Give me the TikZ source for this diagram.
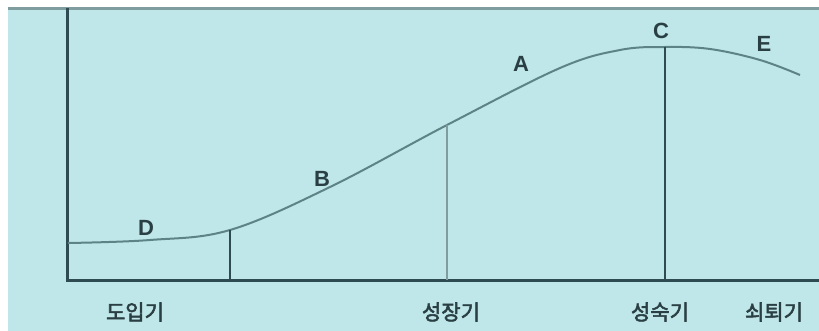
\documentclass[tikz,border=0pt]{standalone}
\usepackage{fontspec}
\setmainfont{Liberation Sans}
\newfontfamily\krfont[FakeBold=2.5]{Noto Sans CJK KR}
\definecolor{bgblue}{HTML}{BFE6E8}
\definecolor{axisdark}{HTML}{2E4B51}
\definecolor{curvegray}{HTML}{5E8386}
\definecolor{linegray}{HTML}{7F9C9E}
\definecolor{textdark}{HTML}{2A3F44}
\begin{document}
\begin{tikzpicture}[
  x=1pt, y=-1pt,
  axis/.style={axisdark, line width=3pt},
  curve/.style={curvegray, line width=2pt},
  divider/.style={axisdark, line width=2pt},
  letter/.style={font=\bfseries\fontsize{22}{22}\selectfont, text=textdark, inner sep=0pt},
  stage/.style={font=\krfont\fontsize{21}{21}\selectfont, text=textdark, inner sep=0pt}
]
\useasboundingbox (0,0) rectangle (819,331);
\fill[white] (0,0) rectangle (819,331);
\fill[bgblue] (8,9) rectangle (819,331);
\draw[linegray, line width=3pt] (8,9) -- (819,9);

% axes
\coordinate (origin) at (67,280);
\coordinate (ytop) at (67,8);
\coordinate (xend) at (819,280);
\draw[axis] (ytop) -- (origin) -- (xend);

% life cycle curve
\draw[curve] plot[smooth, tension=0.6] coordinates {
  (68,243) (150,240) (230,230) (330,187) (447,125) (560,68)
  (620,50) (665,47) (710,49) (760,60) (800,75)};

% stage dividers
\coordinate (c1) at (230,230);
\coordinate (c2) at (447,125);
\coordinate (c3) at (665,47);
\coordinate (b1) at (230,280);
\coordinate (b2) at (447,280);
\coordinate (b3) at (665,280);
\draw[divider] (c1) -- (b1);
\draw[divider, linegray] (c2) -- (b2);
\draw[divider] (c3) -- (b3);

% curve letters
\node[letter] (lA) at (521,64) {A};
\node[letter] (lB) at (322,179) {B};
\node[letter] (lC) at (661,31) {C};
\node[letter] (lD) at (146,228) {D};
\node[letter] (lE) at (764,44) {E};

% stage names
\node[stage] (intro) at (135,312) {도입기};
\node[stage] (growth) at (451,312) {성장기};
\node[stage] (mature) at (660,312) {성숙기};
\node[stage] (decline) at (774,312) {쇠퇴기};
\end{tikzpicture}
\end{document}
